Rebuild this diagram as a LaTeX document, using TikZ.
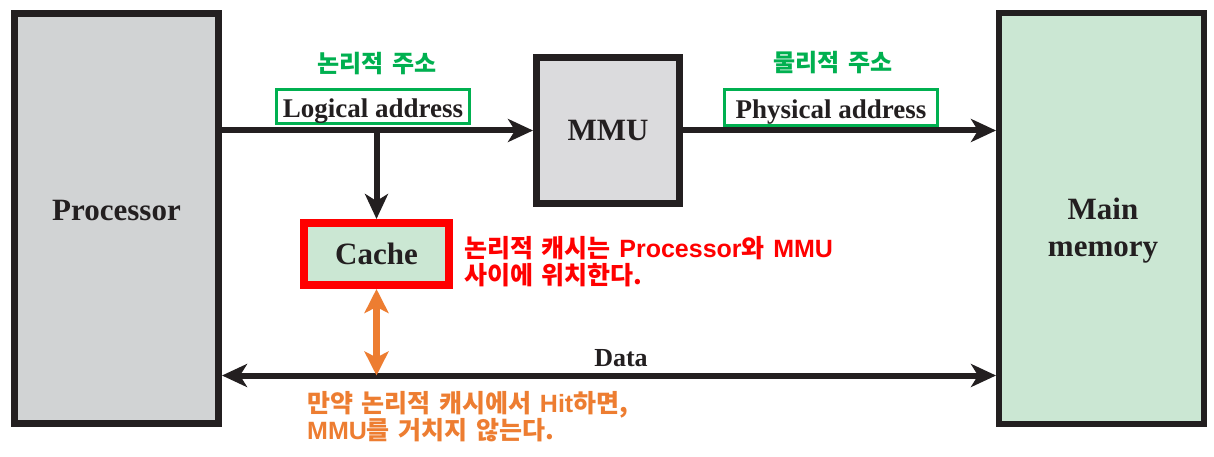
\documentclass[tikz,border=0pt]{standalone}
\usepackage{fontspec}
\setmainfont{Liberation Serif}
\newfontfamily\kr{Noto Sans CJK KR}[WordSpace=1.5]
\newfontfamily\lat{Liberation Sans}
\newcommand\latw[1]{{\lat\bfseries\fontsize{25}{27}\selectfont #1}}
\usetikzlibrary{arrows.meta}
\definecolor{blk}{HTML}{231F20}
\definecolor{procgray}{HTML}{D1D3D4}
\definecolor{mmugray}{HTML}{DBDBDD}
\definecolor{memgreen}{HTML}{CBE7D3}
\definecolor{kgreen}{HTML}{00B050}
\definecolor{korange}{HTML}{ED7D31}
\definecolor{kred}{HTML}{FF0000}
\begin{document}
\begin{tikzpicture}[x=1pt,y=-1pt,
  boxn/.style={draw=blk, line width=7pt, inner sep=0pt, text=blk,
    font=\bfseries\fontsize{31}{37}\selectfont},
  addr/.style={draw=kgreen, line width=3pt, inner xsep=0pt, inner ysep=0pt,
    text=blk, anchor=base, align=center, font=\bfseries\fontsize{27}{30}\selectfont},
  wire/.style={draw=blk, line width=6pt},
  bigtip/.tip={Stealth[length=25pt,width=23pt,inset=7pt]},
  otip/.tip={Stealth[length=24pt,width=24pt,inset=6pt]},
  krlab/.style={inner sep=0pt, font=\kr\bfseries\fontsize{25}{27}\selectfont},
  grlab/.style={inner sep=0pt, text=kgreen, font=\kr\bfseries\fontsize{24}{25}\selectfont},
]
\useasboundingbox[fill=white] (0,0) rectangle (1214,457);

% boxes
\node[boxn, fill=procgray, minimum width=204pt, minimum height=410pt,
      text height=23pt, text depth=20pt] (proc) at (116.5,218.5) {Processor};
\node[boxn, fill=mmugray, minimum width=143pt, minimum height=145pt] (mmu) at (608,130.5) {MMU};
\node[boxn, line width=6pt, fill=memgreen, minimum width=205pt, minimum height=411pt] (main) at (1101.5,218.5) {};
\node[align=center, inner sep=0pt, text=blk, font=\bfseries\fontsize{31}{37}\selectfont] (mainlbl) at (1103,231) {Main\\memory};
\node[draw=kred, line width=8pt, fill=memgreen, inner sep=0pt, minimum width=145pt, minimum height=62pt,
      text=blk, font=\bfseries\fontsize{31}{37}\selectfont] (cache) at (376.5,254) {Cache};

% address labels
\node[addr, minimum width=193pt, text height=28.5pt, text depth=5.5pt] (laddr) at (373,118) {Logical address};
\node[addr, minimum width=213pt, text height=29.5pt, text depth=6.5pt] (paddr) at (831,119) {Physical address};
\node[grlab] (lkr) at (377,64) {논리적 주소};
\node[grlab] (pkr) at (833,63) {물리적 주소};

% connectors
\coordinate (br) at (cache.north |- mmu.west);
\coordinate (dy) at (376.5,375.5);
\draw[wire, -bigtip] (proc.east |- mmu.west) -- (mmu.west);
\draw[wire, -bigtip] (mmu.east) -- (main.west |- mmu.east);
\draw[wire, -bigtip] (br) -- (cache.north);
\draw[wire, bigtip-bigtip] (proc.east |- dy) -- (main.west |- dy);
\draw[draw=korange, line width=7pt, otip-otip] (cache.south) -- (dy);

\node[anchor=base, inner sep=0pt, text=blk, font=\bfseries\fontsize{26}{30}\selectfont] (data) at (621,366) {Data};

% annotations
\node[krlab, text=kred, anchor=north west, align=left] (rednote) at (464,236)
  {논리적 캐시는 \latw{Processor}와 \latw{MMU}\\사이에 위치한다.};
\node[krlab, text=korange, anchor=north west, align=left] (ornote) at (307,391)
  {만약 논리적 캐시에서 \latw{Hit}하면,\\\latw{MMU}를 거치지 않는다.};
\end{tikzpicture}
\end{document}
